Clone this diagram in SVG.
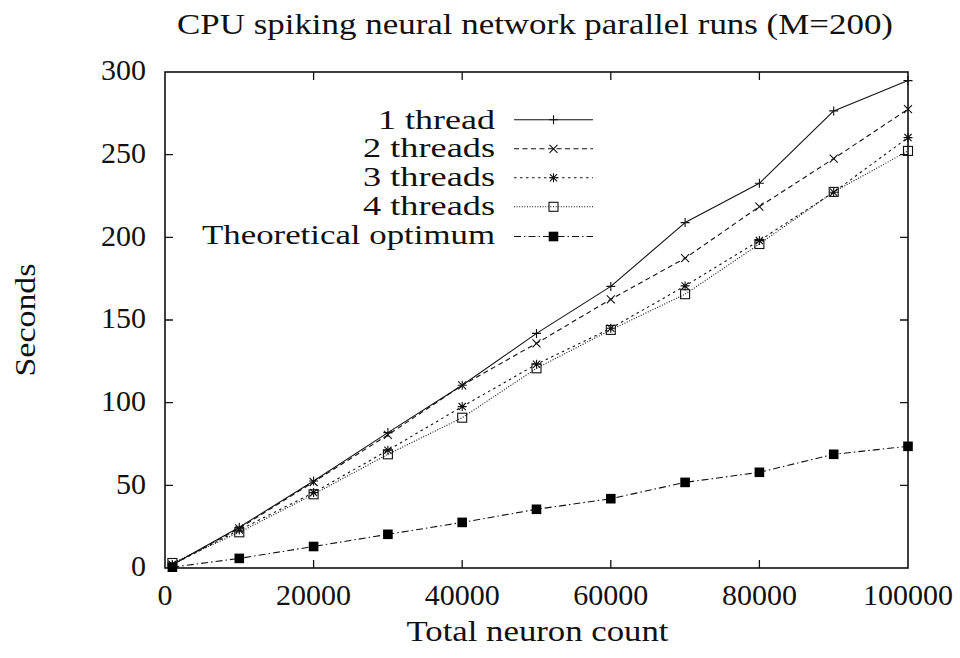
<svg xmlns="http://www.w3.org/2000/svg" xmlns:xlink="http://www.w3.org/1999/xlink" width="960" height="658" viewBox="0 0 960 658">
  <style>
    text { font-family: "Liberation Serif", "Times New Roman", serif; font-size: 30px; fill: #111; }
    .leg { font-size: 27px; }
    .frame { fill: none; stroke: #111; stroke-width: 1.6; }
    .tick { stroke: #111; stroke-width: 1.3; }
    .s { fill: none; stroke: #111; stroke-width: 1.1; stroke-linejoin: round; }
    .t1 { }
    .t2 { stroke-dasharray: 5 3.5; }
    .t3 { stroke-dasharray: 2.5 3.5; }
    .t4 { stroke-dasharray: 1 1.6; }
    .opt { stroke-dasharray: 7 3 1.5 3; }
    .m { fill: none; stroke: #111; stroke-width: 1.1; }
  </style>
  <defs>
    <path id="mPlus" class="m" d="M-4.5 0H4.5M0 -4.5V4.5"/>
    <path id="mCross" class="m" d="M-4 -4L4 4M-4 4L4 -4"/>
    <path id="mStar" class="m" d="M-4.5 0H4.5M0 -4.5V4.5M-3.6 -3.6L3.6 3.6M-3.6 3.6L3.6 -3.6"/>
    <rect id="mBox" class="m" x="-4.5" y="-4.5" width="9" height="9"/>
    <rect id="mFill" x="-4.8" y="-4.8" width="9.6" height="9.6" fill="#000"/>
  </defs>

  <rect width="960" height="658" fill="#fff"/>

  <text id="title" x="535" y="34" text-anchor="middle" textLength="716" lengthAdjust="spacingAndGlyphs">CPU spiking neural network parallel runs (M=200)</text>

  <g id="axes">
    <rect class="frame" x="165" y="72" width="743" height="496"/>
    <g class="tick">
      <path d="M165 485.3h8M165 402.7h8M165 320h8M165 237.3h8M165 154.7h8"/>
      <path d="M908 485.3h-8M908 402.7h-8M908 320h-8M908 237.3h-8M908 154.7h-8"/>
      <path d="M313.6 568v-8M462.2 568v-8M610.8 568v-8M759.4 568v-8"/>
      <path d="M313.6 72v8M462.2 72v8M610.8 72v8M759.4 72v8"/>
    </g>
    <g id="ylabels" text-anchor="end">
      <text x="146" y="576">0</text>
      <text x="146" y="493.6">50</text>
      <text x="146" y="411">100</text>
      <text x="146" y="328.3">150</text>
      <text x="146" y="245.6">200</text>
      <text x="146" y="163">250</text>
      <text x="146" y="80.3">300</text>
    </g>
    <g id="xlabels" text-anchor="middle">
      <text x="165" y="605">0</text>
      <text x="313.6" y="605">20000</text>
      <text x="462.2" y="605">40000</text>
      <text x="610.8" y="605">60000</text>
      <text x="759.4" y="605">80000</text>
      <text x="908" y="605">100000</text>
    </g>
    <text id="xtitle" x="537.5" y="641" text-anchor="middle" textLength="262" lengthAdjust="spacingAndGlyphs">Total neuron count</text>
    <text id="ytitle" transform="translate(35 320) rotate(-90)" x="0" y="0" text-anchor="middle" textLength="113" lengthAdjust="spacingAndGlyphs">Seconds</text>
  </g>

  <g id="series-1thread">
    <polyline class="s t1" points="172.4,564.7 239.3,527.3 313.6,481 387.9,432.6 462.2,385.3 536.5,333.4 610.8,286.4 685.1,222.6 759.4,183.3 833.7,110.9 908,80.6"/>
    <use xlink:href="#mPlus" x="172.4" y="564.7"/><use xlink:href="#mPlus" x="239.3" y="527.3"/><use xlink:href="#mPlus" x="313.6" y="481"/><use xlink:href="#mPlus" x="387.9" y="432.6"/><use xlink:href="#mPlus" x="462.2" y="385.3"/><use xlink:href="#mPlus" x="536.5" y="333.4"/><use xlink:href="#mPlus" x="610.8" y="286.4"/><use xlink:href="#mPlus" x="685.1" y="222.6"/><use xlink:href="#mPlus" x="759.4" y="183.3"/><use xlink:href="#mPlus" x="833.7" y="110.9"/><use xlink:href="#mPlus" x="908" y="80.6"/>
  </g>

  <g id="series-2threads">
    <polyline class="s t2" points="172.4,564.7 239.3,528.3 313.6,482 387.9,434.9 462.2,385.3 536.5,343.3 610.8,299.3 685.1,258.2 759.4,206.6 833.7,158.6 908,109.2"/>
    <use xlink:href="#mCross" x="172.4" y="564.7"/><use xlink:href="#mCross" x="239.3" y="528.3"/><use xlink:href="#mCross" x="313.6" y="482"/><use xlink:href="#mCross" x="387.9" y="434.9"/><use xlink:href="#mCross" x="462.2" y="385.3"/><use xlink:href="#mCross" x="536.5" y="343.3"/><use xlink:href="#mCross" x="610.8" y="299.3"/><use xlink:href="#mCross" x="685.1" y="258.2"/><use xlink:href="#mCross" x="759.4" y="206.6"/><use xlink:href="#mCross" x="833.7" y="158.6"/><use xlink:href="#mCross" x="908" y="109.2"/>
  </g>

  <g id="series-3threads">
    <polyline class="s t3" points="172.4,564.7 239.3,530 313.6,492.6 387.9,450.3 462.2,406.6 536.5,364.3 610.8,328.3 685.1,285.9 759.4,240.6 833.7,192.2 908,137.6"/>
    <use xlink:href="#mStar" x="172.4" y="564.7"/><use xlink:href="#mStar" x="239.3" y="530"/><use xlink:href="#mStar" x="313.6" y="492.6"/><use xlink:href="#mStar" x="387.9" y="450.3"/><use xlink:href="#mStar" x="462.2" y="406.6"/><use xlink:href="#mStar" x="536.5" y="364.3"/><use xlink:href="#mStar" x="610.8" y="328.3"/><use xlink:href="#mStar" x="685.1" y="285.9"/><use xlink:href="#mStar" x="759.4" y="240.6"/><use xlink:href="#mStar" x="833.7" y="192.2"/><use xlink:href="#mStar" x="908" y="137.6"/>
  </g>

  <g id="series-4threads">
    <polyline class="s t4" points="172.4,563 239.3,532.3 313.6,494.3 387.9,454.3 462.2,417.7 536.5,368.3 610.8,329.9 685.1,294.2 759.4,244 833.7,191.9 908,150.9"/>
    <use xlink:href="#mBox" x="172.4" y="563"/><use xlink:href="#mBox" x="239.3" y="532.3"/><use xlink:href="#mBox" x="313.6" y="494.3"/><use xlink:href="#mBox" x="387.9" y="454.3"/><use xlink:href="#mBox" x="462.2" y="417.7"/><use xlink:href="#mBox" x="536.5" y="368.3"/><use xlink:href="#mBox" x="610.8" y="329.9"/><use xlink:href="#mBox" x="685.1" y="294.2"/><use xlink:href="#mBox" x="759.4" y="244"/><use xlink:href="#mBox" x="833.7" y="191.9"/><use xlink:href="#mBox" x="908" y="150.9"/>
  </g>

  <g id="series-optimum">
    <polyline class="s opt" points="172.4,567.2 239.3,558.4 313.6,546.5 387.9,534.3 462.2,522.4 536.5,509.3 610.8,498.7 685.1,482.4 759.4,472.3 833.7,454.3 908,446.3"/>
    <use xlink:href="#mFill" x="172.4" y="567.2"/><use xlink:href="#mFill" x="239.3" y="558.4"/><use xlink:href="#mFill" x="313.6" y="546.5"/><use xlink:href="#mFill" x="387.9" y="534.3"/><use xlink:href="#mFill" x="462.2" y="522.4"/><use xlink:href="#mFill" x="536.5" y="509.3"/><use xlink:href="#mFill" x="610.8" y="498.7"/><use xlink:href="#mFill" x="685.1" y="482.4"/><use xlink:href="#mFill" x="759.4" y="472.3"/><use xlink:href="#mFill" x="833.7" y="454.3"/><use xlink:href="#mFill" x="908" y="446.3"/>
  </g>

  <g id="legend">
    <g text-anchor="end" class="leg">
      <text class="leg" x="495" y="128.5" textLength="117" lengthAdjust="spacingAndGlyphs">1 thread</text>
      <text class="leg" x="495" y="157.3" textLength="132" lengthAdjust="spacingAndGlyphs">2 threads</text>
      <text class="leg" x="495" y="186.1" textLength="132" lengthAdjust="spacingAndGlyphs">3 threads</text>
      <text class="leg" x="495" y="214.9" textLength="132" lengthAdjust="spacingAndGlyphs">4 threads</text>
      <text class="leg" x="495" y="243.7" textLength="293" lengthAdjust="spacingAndGlyphs">Theoretical optimum</text>
    </g>
    <path class="s t1" d="M514 119.8H593"/>
    <use xlink:href="#mPlus" x="553.5" y="119.8"/>
    <path class="s t2" d="M514 148.8H593"/>
    <use xlink:href="#mCross" x="553.5" y="148.8"/>
    <path class="s t3" d="M514 177.8H593"/>
    <use xlink:href="#mStar" x="553.5" y="177.8"/>
    <path class="s t4" d="M514 206.8H593"/>
    <use xlink:href="#mBox" x="553.5" y="206.8"/>
    <path class="s opt" d="M514 236.5H593"/>
    <use xlink:href="#mFill" x="553.5" y="236.5"/>
  </g>
</svg>
